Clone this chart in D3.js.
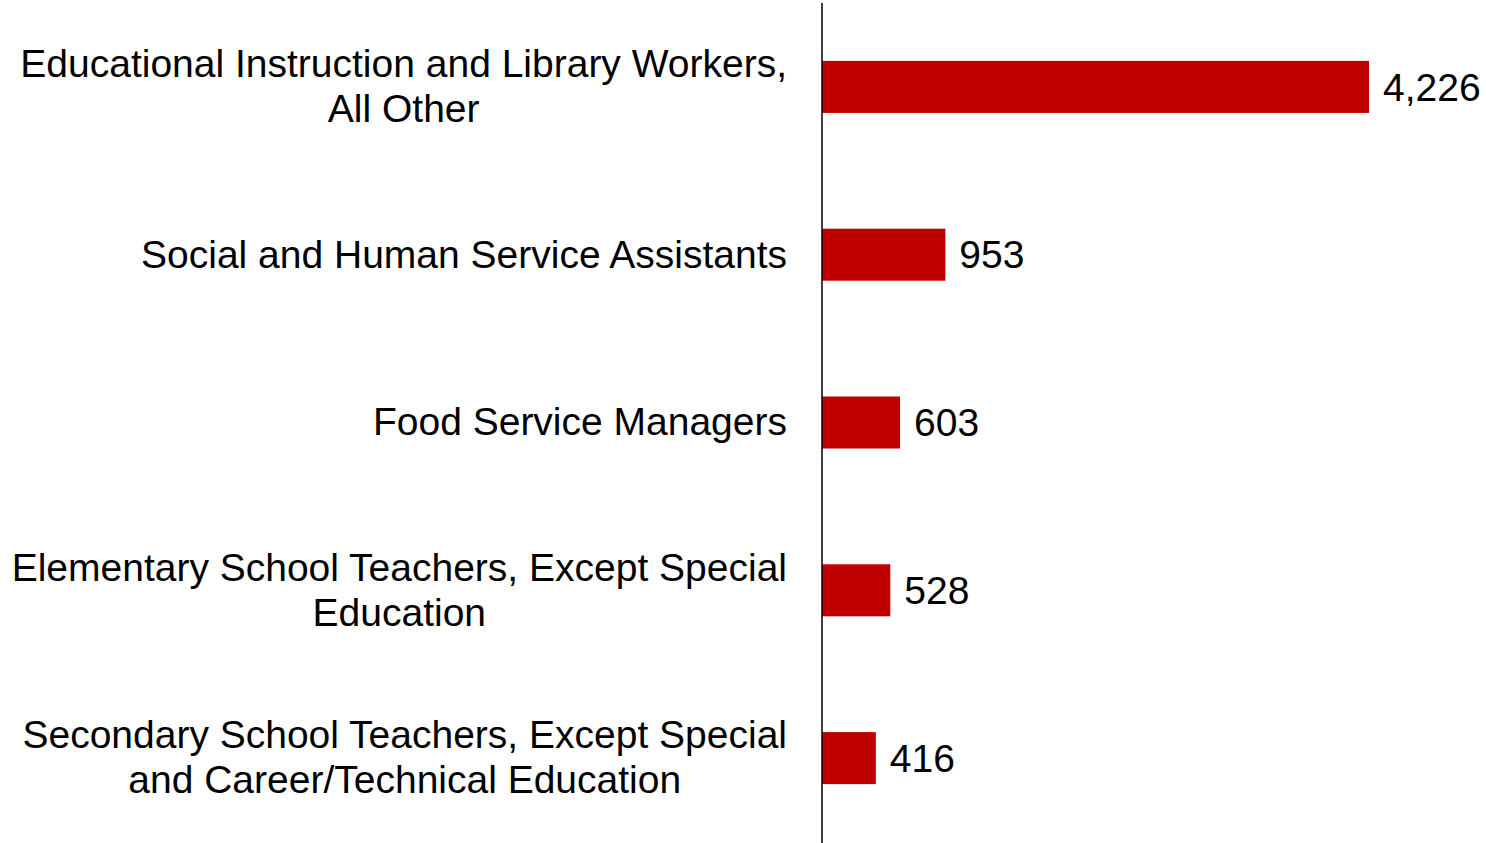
<!DOCTYPE html>
<html>
<head>
<meta charset="utf-8">
<script src="https://cdn.jsdelivr.net/npm/d3@7"></script>
<style>
	body { margin: 0; background: #fff; }
	svg text { font-family: "Liberation Sans", Arial, sans-serif; fill: #000; }
</style>
</head>
<body>
<svg id="chart" width="1486" height="843"></svg>
<script>
// occupations, top to bottom (each entry = label lines)
var categories = [
	["Educational Instruction and Library Workers,", "All Other"],
	["Social and Human Service Assistants"],
	["Food Service Managers"],
	["Elementary School Teachers, Except Special", "Education"],
	["Secondary School Teachers, Except Special", "and Career/Technical Education"]
];
var values = [4226, 953, 603, 528, 416];
var valueLabels = ["4,226", "953", "603", "528", "416"];

var svg = d3.select("#chart");
var axisX = 822;
var fontSize = 39;
var lineGap = 45;

var x = d3.scaleLinear()
	.domain([0, 4226])
	.range([axisX, 1369]);

var y = d3.scaleBand()
	.domain(d3.range(values.length))
	.range([3, 842])
	.paddingInner(0.69)
	.paddingOuter(0.345);

// bars
svg.append("g")
	.selectAll("rect")
	.data(values)
	.join("rect")
	.attr("x", x(0))
	.attr("y", (d, i) => y(i))
	.attr("width", d => x(d) - x(0))
	.attr("height", y.bandwidth())
	.attr("fill", "#c00000");

// value labels
svg.append("g")
	.selectAll("text")
	.data(values)
	.join("text")
	.attr("x", d => x(d) + 14)
	.attr("y", (d, i) => y(i) + y.bandwidth() / 2)
	.attr("dy", "0.35em")
	.style("font-size", fontSize + "px")
	.text((d, i) => valueLabels[i]);

// category labels: block right-aligned, lines centered within block
var labelRight = 787;
var groups = svg.append("g")
	.selectAll("g")
	.data(categories)
	.join("g");

groups.each(function(lines, i) {
	var g = d3.select(this);
	var cy = y(i) + y.bandwidth() / 2;
	var top = cy - (lines.length - 1) * lineGap / 2;
	var texts = g.selectAll("text")
		.data(lines)
		.join("text")
		.attr("y", (d, j) => top + j * lineGap)
		.attr("dy", "0.33em")
		.attr("text-anchor", "middle")
		.style("font-size", fontSize + "px")
		.text(d => d);
	var maxW = d3.max(texts.nodes(), n => n.getComputedTextLength());
	texts.attr("x", labelRight - maxW / 2);
});

// vertical axis line
svg.append("line")
	.attr("x1", axisX)
	.attr("x2", axisX)
	.attr("y1", 3)
	.attr("y2", 843)
	.attr("stroke", "#000")
	.attr("stroke-width", 1.5);
</script>
</body>
</html>
